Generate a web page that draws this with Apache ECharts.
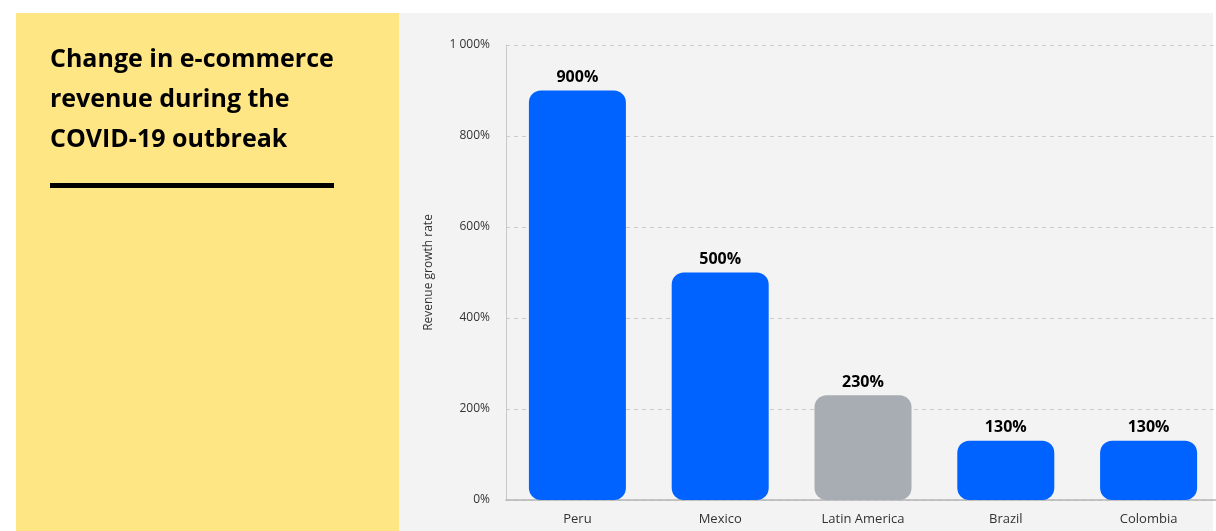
<!DOCTYPE html>
<html>
<head>
<meta charset="utf-8">
<style>
  html, body { margin: 0; padding: 0; background: #ffffff; overflow: hidden; }
  #chart { width: 1226px; height: 531px; }
</style>
<script src="https://cdn.jsdelivr.net/npm/echarts@6/dist/echarts.min.js"></script>
</head>
<body>
<div id="chart"></div>
<script>
// Revenue growth by market during the COVID-19 outbreak
const categories = ['Peru', 'Mexico', 'Latin America', 'Brazil', 'Colombia'];
const growthValues = [900, 500, 230, 130, 130];
const regionalIndex = 2; // the regional aggregate is shown in gray
const yTicks = [0, 200, 400, 600, 800, 1000];

const BLUE = '#0062FF';
const GRAY = '#A8ACB3';

const chart = echarts.init(document.getElementById('chart'));

function fmtPct(v) {
  // thousands separated by a space, e.g. "1 000%"
  return String(v).replace(/\B(?=(\d{3})+(?!\d))/g, ' ') + '%';
}

chart.setOption({
  animation: false,
  backgroundColor: '#ffffff',
  graphic: [
    { type: 'rect', z: -10, shape: { x: 16, y: 13, width: 383, height: 520 }, style: { fill: '#FEE684' } },
    { type: 'rect', z: -10, shape: { x: 399, y: 13, width: 814, height: 520 }, style: { fill: '#F3F3F3' } },
    { type: 'rect', z: -10, shape: { x: 1213, y: 0, width: 20, height: 531 }, style: { fill: '#FFFFFF' } },
    { type: 'rect', z: 10, shape: { x: 50, y: 183, width: 284, height: 5 }, style: { fill: '#000000' } }
  ],
  title: {
    text: 'Change in e-commerce\nrevenue during the\nCOVID-19 outbreak',
    left: 50,
    top: 40,
    padding: 0,
    textStyle: {
      fontFamily: 'Open Sans',
      fontWeight: 'bold',
      fontSize: 25,
      lineHeight: 40,
      color: '#000000'
    }
  },
  grid: { left: 506, top: 45, width: 714, bottom: 31, containLabel: false },
  xAxis: {
    type: 'category',
    data: categories,
    axisLine: { show: true, lineStyle: { color: '#B5B5B5', width: 1.5 } },
    axisTick: { show: false },
    axisLabel: { color: '#333333', fontSize: 13, fontFamily: 'Open Sans', margin: 13 }
  },
  yAxis: {
    type: 'value',
    min: 0,
    max: 1000,
    interval: 200,
    name: 'Revenue growth rate',
    nameLocation: 'middle',
    nameGap: 71,
    nameTextStyle: { color: '#333333', fontSize: 12, fontFamily: 'Open Sans' },
    axisLine: { show: true, lineStyle: { color: '#C8C8C8' } },
    axisTick: { show: false },
    axisLabel: {
      color: '#333333', fontSize: 12, fontFamily: 'Open Sans', margin: 16,
      formatter: v => yTicks.includes(v) ? fmtPct(v) : ''
    },
    splitLine: { show: true, lineStyle: { color: '#CCCCCC', type: [4, 4] } }
  },
  series: [{
    type: 'bar',
    barWidth: 97,
    data: growthValues.map((v, i) => ({
      value: v,
      itemStyle: { color: i === regionalIndex ? GRAY : BLUE, borderRadius: 12 }
    })),
    label: {
      show: true,
      position: 'top',
      distance: 5,
      formatter: p => fmtPct(p.value),
      color: '#000000',
      fontFamily: 'Open Sans',
      fontWeight: 'bold',
      fontSize: 16
    }
  }]
});
</script>
</body>
</html>
